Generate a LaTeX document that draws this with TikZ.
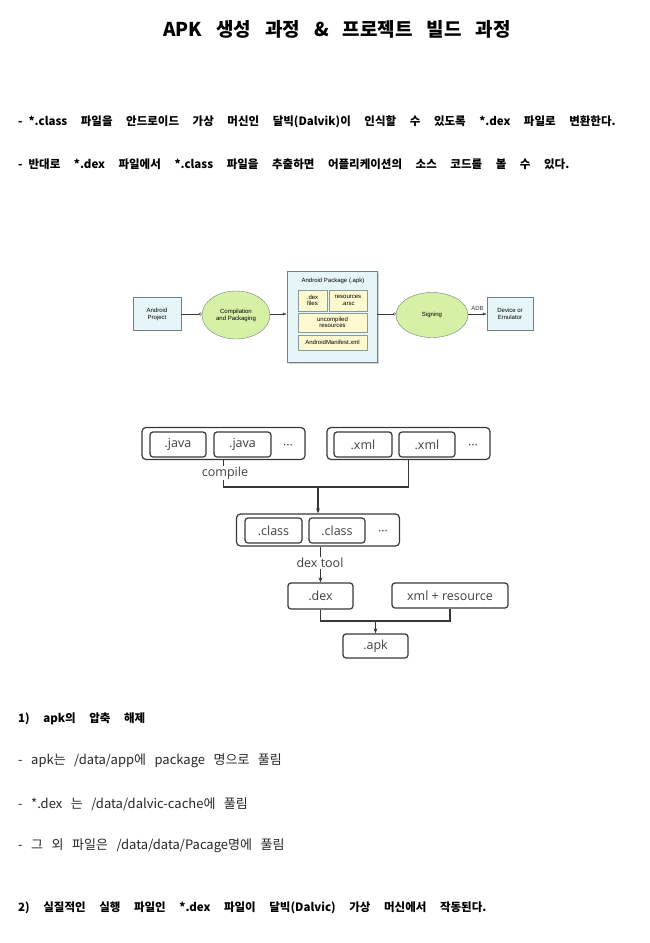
\documentclass[tikz,border=0pt]{standalone}
\usepackage{fontspec}
\setmainfont{Noto Sans CJK KR}
\newfontfamily\diagfont{Liberation Sans}
\newfontfamily\flowfont{Open Sans}
\usetikzlibrary{arrows.meta,shadows,shapes.geometric}
\definecolor{colBOX}{RGB}{229,245,248}
\definecolor{colELL}{RGB}{214,240,166}
\definecolor{colPART}{RGB}{252,248,208}
\definecolor{colEDGE}{RGB}{110,130,130}
\definecolor{colLINE}{RGB}{55,55,55}
\newcommand{\wordgap}[1]{\spaceskip #1\relax}

\begin{document}
\begin{tikzpicture}[x=1pt,y=-1pt,
    every node/.style={inner sep=0pt},
    sentence/.style={anchor=west,font={\fontsize{13}{15}\selectfont\wordgap{8.5pt}},text=black!85},
    boldsentence/.style={anchor=west,font={\fontsize{11.5}{13}\selectfont\bfseries\wordgap{13.6pt}}},
    stagebox/.style={draw=colEDGE,fill=colBOX,font=\diagfont\fontsize{6}{7}\selectfont,align=center},
    stageell/.style={ellipse,draw=colEDGE,fill=colELL,font=\diagfont\fontsize{6}{7}\selectfont,align=center},
    partbox/.style={draw=colEDGE!80,fill=colPART,font=\diagfont\fontsize{6}{6.5}\selectfont,align=center},
    filebox/.style={draw=colLINE,line width=1.2pt,rounded corners=3pt,minimum height=25,
      font=\flowfont\fontsize{12.5}{14}\selectfont,text=black!75},
    groupbox/.style={draw=colLINE,line width=1.2pt,rounded corners=4pt,minimum height=32,minimum width=163},
    flowline/.style={draw=colLINE,line width=1.2pt},
    flowdots/.style={font=\flowfont\fontsize{12.5}{14}\selectfont,text=black!75},
    steplabel/.style={fill=white,inner sep=1pt,font=\flowfont\fontsize{12.5}{14}\selectfont,text=black!75}]
  \useasboundingbox (0,0) rectangle (649,943);
  % Title and first notes
  \node[font={\fontsize{19}{21}\selectfont\bfseries\wordgap{14pt}}] (title) at (337,29)
    {APK 생성 과정 \& 프로젝트 빌드 과정};
  \node[boldsentence] (note1) at (18,122)
    {-\hspace{6pt}*.class 파일을 안드로이드 가상 머신인 달빅(Dalvik)이 인식할 수 있도록 *.dex 파일로 변환한다.};
  \node[boldsentence] (note2) at (18,164)
    {-\hspace{6pt}반대로 *.dex 파일에서 *.class 파일을 추출하면 어플리케이션의 소스 코드를 볼 수 있다.};

  % Build stages (top chart)
  \node[stagebox,minimum width=48,minimum height=33] (proj) at (157,314) {Android\\Project};
  \node[stageell,minimum width=68,minimum height=48] (comp) at (236,315) {Compilation\\and Packaging};
  \node[stagebox,drop shadow={opacity=0.35,shadow xshift=1.5pt,shadow yshift=-1.5pt},
    minimum width=90,minimum height=91] (pkg) at (332,316.5) {};
  \node[font=\diagfont\fontsize{6}{7}\selectfont] (pkgtitle) at (333,280.5) {Android Package (.apk)};
  \node[partbox,minimum width=29,minimum height=21] (dexf) at (312.5,300.5) {.dex\\files};
  \node[partbox,minimum width=38,minimum height=21] (arsc) at (348,300.5) {resources\\.arsc};
  \node[partbox,minimum width=69,minimum height=19] (uncomp) at (332.5,322.5) {uncompiled\\resources};
  \node[partbox,minimum width=69,minimum height=15] (manif) at (332.5,342.5) {AndroidManifest.xml};
  \node[stageell,minimum width=72,minimum height=45] (sign) at (432,315) {Signing};
  \node[stagebox,minimum width=46,minimum height=33] (dev) at (510,314) {Device or\\Emulator};
  \draw[colLINE,-{Circle[open,length=3pt]}] (proj.east) -- (proj.east -| comp.west);
  \draw[colLINE,-{Latex[length=4pt]}] (comp.east |- proj.east) -- (pkg.west |- proj.east);
  \draw[colLINE,-{Circle[open,length=3pt]}] (pkg.east |- proj.east) -- (sign.west |- proj.east);
  \draw[colLINE,-{Latex[length=4pt]}] (sign.east |- proj.east) -- (dev.west)
    node[midway,above=3pt,font=\diagfont\fontsize{6}{7}\selectfont] (adb) {ADB};

  % Build flow (bottom chart)
  \node[groupbox] (javas) at (223.5,443.5) {};
  \node[filebox,minimum width=56] (java1) at (178,444.5) {.java};
  \node[filebox,minimum width=57] (java2) at (242.5,444.5) {.java};
  \node[flowdots] (jdots) at (288,447) {···};
  \node[groupbox] (xmls) at (408.5,443.5) {};
  \node[filebox,minimum width=58] (xml1) at (363,444.5) {.xml};
  \node[filebox,minimum width=56] (xml2) at (427,444.5) {.xml};
  \node[flowdots] (xdots) at (473,447) {···};
  \node[groupbox] (classes) at (318,530) {};
  \node[filebox,minimum width=57] (class1) at (273.5,530.5) {.class};
  \node[filebox,minimum width=56] (class2) at (337,530.5) {.class};
  \node[flowdots] (cdots) at (383,533) {···};
  \node[filebox,minimum width=65,minimum height=26] (dex) at (320.5,596) {.dex};
  \node[filebox,minimum width=116] (xmlres) at (450,595.5) {xml + resource};
  \node[filebox,minimum width=65,minimum height=24] (apk) at (375.5,646) {.apk};
  \coordinate (join1) at (classes.north |- 0,487);
  \coordinate (join2) at (apk.north |- 0,621);
  \draw[flowline] (javas.south) -- (javas.south |- join1) -- (xmls.south |- join1) -- (xmls.south);
  \node[steplabel] (compile) at (225,473) {compile};
  \draw[flowline,-{Stealth[length=5pt]}] (join1) -- (classes.north);
  \draw[flowline,-{Stealth[length=5pt]}] (dex.north |- classes.south) -- (dex.north);
  \node[steplabel] (dextool) at (320,563) {dex tool};
  \draw[flowline] (dex.south) -- (dex.south |- join2) -- (xmlres.south |- join2) -- (xmlres.south);
  \draw[flowline,-{Stealth[length=5pt]}] (join2) -- (apk.north);

  % Install notes
  \node[boldsentence] (step1) at (18,719) {1) apk의 압축 해제};
  \node[sentence] (sub1) at (18,761) {- apk는 /data/app에 package 명으로 풀림};
  \node[sentence] (sub2) at (18,804) {- *.dex 는 /data/dalvic-cache에 풀림};
  \node[sentence] (sub3) at (18,846) {- 그 외 파일은 /data/data/Pacage명에 풀림};
  \node[boldsentence] (step2) at (18,908)
    {2) 실질적인 실행 파일인 *.dex 파일이 달빅(Dalvic) 가상 머신에서 작동된다.};
\end{tikzpicture}
\end{document}
